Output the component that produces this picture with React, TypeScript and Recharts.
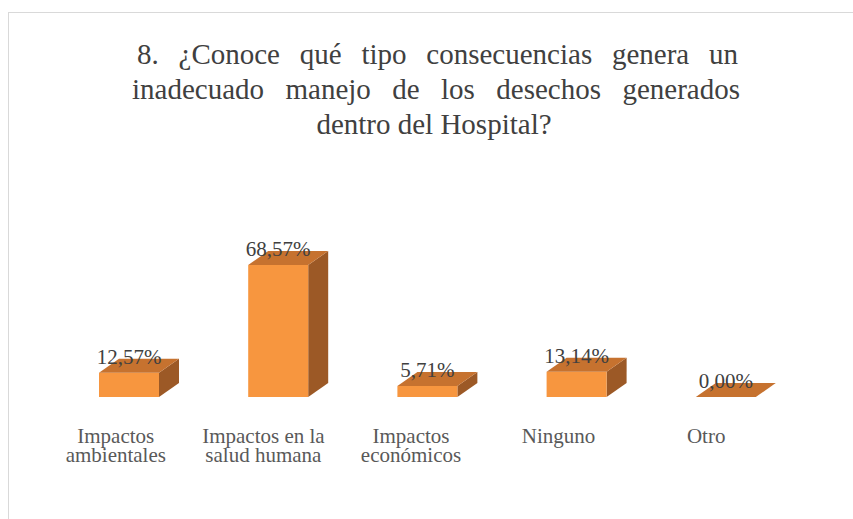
import { BarChart, Bar, XAxis, YAxis, LabelList } from 'recharts'

const categories = [
  'Impactos ambientales',
  'Impactos en la salud humana',
  'Impactos económicos',
  'Ninguno',
  'Otro',
]
const tickLines = [
  ['Impactos', 'ambientales'],
  ['Impactos en la', 'salud humana'],
  ['Impactos', 'económicos'],
  ['Ninguno'],
  ['Otro'],
]
const percentages = [12.57, 68.57, 5.71, 13.14, 0]
const titleLines = [
  '8. ¿Conoce qué tipo consecuencias genera un',
  'inadecuado manejo de los desechos generados',
  'dentro del Hospital?',
]

const data = categories.map((name, i) => ({ name, value: percentages[i] }))

const FRONT = '#F7963F'
const TOP = '#C6722F'
const SIDE = '#9C5926'
const DEPTH_X = 20
const DEPTH_Y = 14
// Excel's 3D perspective pushes the boxes a bit right of the category centre
const shiftFor = (i: number) => 13 + i * 1.6

const fmt = (v: number) => `${v.toFixed(2).replace('.', ',')}%`

// eslint-disable-next-line @typescript-eslint/no-explicit-any
function Box3D(props: any) {
  const { x, y, width, height, index } = props
  const fx = x + shiftFor(index)
  const h = Math.max(height || 0, 0)
  const front = `M${fx},${y} h${width} v${h} h${-width} Z`
  const top = `M${fx},${y} l${DEPTH_X},${-DEPTH_Y} h${width} l${-DEPTH_X},${DEPTH_Y} Z`
  const side = `M${fx + width},${y} l${DEPTH_X},${-DEPTH_Y} v${h} l${-DEPTH_X},${DEPTH_Y} Z`
  return (
    <g>
      {h > 0 && <path d={side} fill={SIDE} />}
      {h > 0 && <path d={front} fill={FRONT} />}
      <path d={top} fill={TOP} />
    </g>
  )
}

// eslint-disable-next-line @typescript-eslint/no-explicit-any
function ValueLabel(props: any) {
  const { x, y, width, value, index } = props
  return (
    <text
      x={x + width / 2 + shiftFor(index)}
      y={y - 9}
      textAnchor="middle"
      fontFamily="Liberation Serif"
      fontSize={21}
      fill="#404040"
    >
      {fmt(Number(value))}
    </text>
  )
}

// eslint-disable-next-line @typescript-eslint/no-explicit-any
function CategoryTick(props: any) {
  const { x, y, payload } = props
  const lines = tickLines[payload.index] || [payload.value]
  return (
    <text x={x} y={y} textAnchor="middle" fontFamily="Liberation Serif" fontSize={21} fill="#595959">
      {lines.map((line, i) => (
        <tspan key={i} x={x} dy={i === 0 ? 46 : 19}>
          {line}
        </tspan>
      ))}
    </text>
  )
}

export default function App() {
  return (
    <div style={{ position: 'absolute', left: 0, top: 0, width: 853, height: 519, overflow: 'hidden' }}>
      <div
        style={{
          position: 'absolute',
          left: 8,
          top: 12,
          width: 880,
          height: 560,
          border: '1px solid #d9d9d9',
        }}
      />
      <div style={{ position: 'absolute', left: 137, top: 37, width: 601, fontFamily: 'Liberation Serif', fontSize: 29, lineHeight: 1.2, color: '#404040', whiteSpace: 'nowrap', textAlign: 'justify', textAlignLast: 'justify' }}>
        {titleLines[0]}
      </div>
      <div style={{ position: 'absolute', left: 132, top: 72, width: 608, fontFamily: 'Liberation Serif', fontSize: 29, lineHeight: 1.2, color: '#404040', whiteSpace: 'nowrap', textAlign: 'justify', textAlignLast: 'justify' }}>
        {titleLines[1]}
      </div>
      <div style={{ position: 'absolute', left: 234, top: 107, width: 400, fontFamily: 'Liberation Serif', fontSize: 29, lineHeight: 1.2, color: '#404040', whiteSpace: 'nowrap', textAlign: 'center' }}>
        {titleLines[2]}
      </div>
      <div style={{ position: 'absolute', left: 0, top: 0 }}>
        <BarChart
          width={853}
          height={519}
          data={data}
          margin={{ top: 243, right: 73, bottom: 42, left: 42 }}
        >
          <XAxis
            dataKey="name"
            axisLine={false}
            tickLine={false}
            tickSize={0}
            tickMargin={0}
            height={80}
            interval={0}
            tick={<CategoryTick />}
          />
          <YAxis hide domain={[0, 80]} />
          <Bar dataKey="value" barSize={60} shape={<Box3D />} isAnimationActive={false}>
            <LabelList dataKey="value" content={<ValueLabel />} />
          </Bar>
        </BarChart>
      </div>
    </div>
  )
}
